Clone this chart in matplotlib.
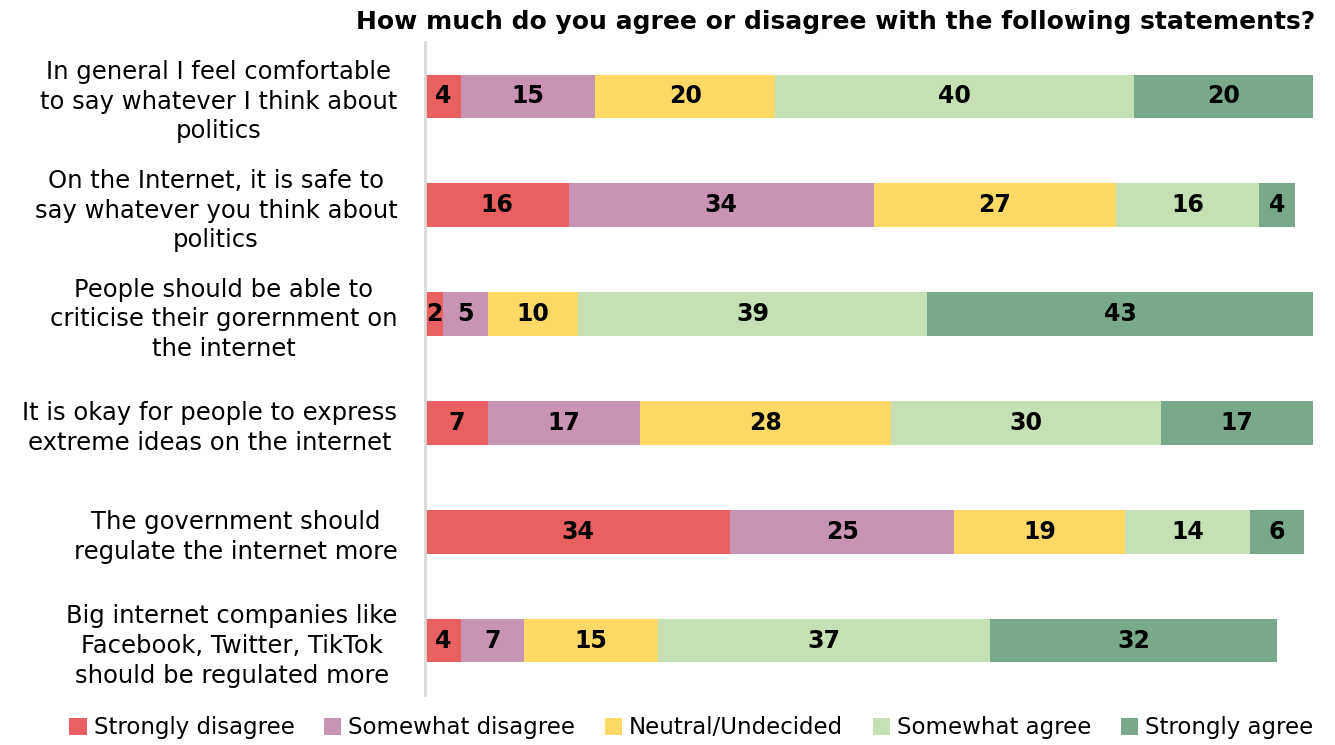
import matplotlib
matplotlib.use("Agg")
import matplotlib.pyplot as plt
import numpy as np

plt.rcParams['font.family'] = ['DejaVu Sans']

statements = [
    "In general I feel comfortable\nto say whatever I think about\npolitics",
    "On the Internet, it is safe to\nsay whatever you think about\npolitics",
    "People should be able to\ncriticise their gorernment on\nthe internet",
    "It is okay for people to express\nextreme ideas on the internet",
    "The government should\nregulate the internet more",
    "Big internet companies like\nFacebook, Twitter, TikTok\nshould be regulated more",
]
responses = ["Strongly disagree", "Somewhat disagree", "Neutral/Undecided",
             "Somewhat agree", "Strongly agree"]

strongly_disagree = [4, 16, 2, 7, 34, 4]
somewhat_disagree = [15, 34, 5, 17, 25, 7]
neutral = [20, 27, 10, 28, 19, 15]
somewhat_agree = [40, 16, 39, 30, 14, 37]
strongly_agree = [20, 4, 43, 17, 6, 32]

colors = ["#E96060", "#C993B4", "#FFD966", "#C5E0B4", "#78A98A"]

series = [strongly_disagree, somewhat_disagree, neutral, somewhat_agree, strongly_agree]

fig = plt.figure(figsize=(13.35, 7.45), dpi=100)
ax = fig.add_axes([0.3184, 0.0671, 0.6651, 0.8765])

y = np.arange(len(statements))
left = np.zeros(len(statements))
for vals, name, col in zip(series, responses, colors):
    bars = ax.barh(y, vals, left=left, height=0.40, color=col, label=name)
    ax.bar_label(bars, label_type='center', fontsize=17, fontweight='bold', color='black')
    left += np.array(vals)

ax.set_xlim(0, 99)
ax.set_ylim(len(statements) - 0.5, -0.5)
ax.set_xticks([])
ax.set_yticks(y)
ax.set_yticklabels(statements, fontsize=17.5, multialignment='center', linespacing=1.3)
ax.tick_params(axis='y', length=0, pad=20)
for s in ['top', 'right', 'bottom']:
    ax.spines[s].set_visible(False)
ax.spines['left'].set_color('#D9D9D9')
ax.spines['left'].set_linewidth(2)

fig.text(0.985, 0.97, "How much do you agree or disagree with the following statements?",
         ha='right', va='center', fontsize=18, fontweight='bold')

fig.legend(loc='lower center', bbox_to_anchor=(0.518, -0.02), ncol=5, frameon=False,
           fontsize=16.5, handlelength=0.75, handleheight=0.75, handletextpad=0.3,
           columnspacing=1.3)

fig.savefig("out.png", dpi=100)
